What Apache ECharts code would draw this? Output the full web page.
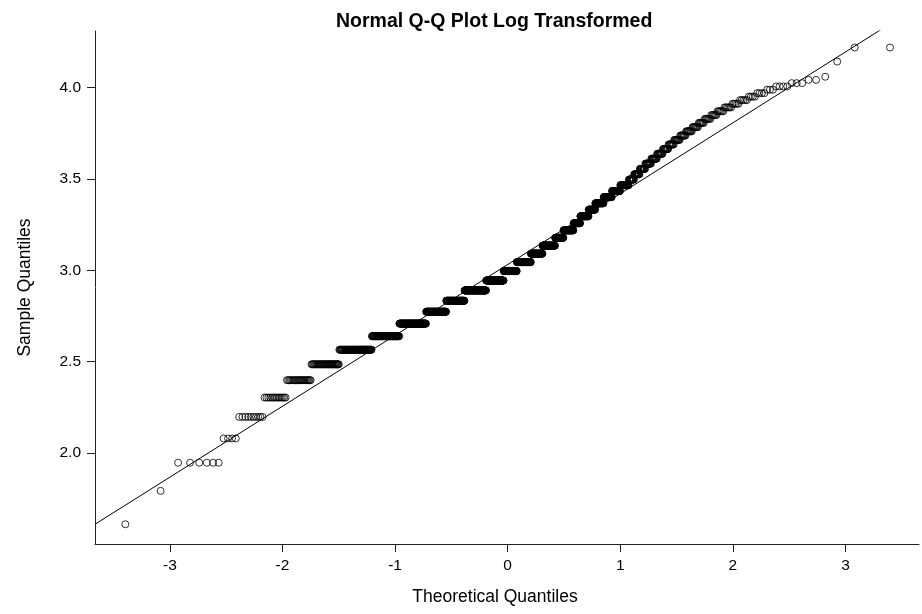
<!DOCTYPE html>
<html>
<head>
<meta charset="utf-8">
<script src="https://cdn.jsdelivr.net/npm/echarts@6/dist/echarts.min.js"></script>
<style>
  html, body { margin: 0; padding: 0; background: #fff; }
  #chart { width: 922px; height: 614px; }
</style>
</head>
<body>
<div id="chart"></div>
<script>
// ---- data ----
const chartTitle = 'Normal Q-Q Plot Log Transformed';
const xAxisTitle = 'Theoretical Quantiles';
const yAxisTitle = 'Sample Quantiles';

// distinct sample values (log-transformed) seen as horizontal runs
const sampleLevels = [
  1.609, 1.792, 1.946, 2.079, 2.197, 2.303, 2.398, 2.485, 2.565, 2.639,
  2.708, 2.773, 2.833, 2.890, 2.944, 2.996, 3.045, 3.091, 3.135, 3.178,
  3.219, 3.258, 3.296, 3.332, 3.367, 3.401, 3.434, 3.466,
  3.497, 3.526, 3.555, 3.584, 3.611, 3.638, 3.664, 3.689, 3.714, 3.738,
  3.761, 3.784, 3.807, 3.829, 3.850, 3.871,
  3.892, 3.912, 3.932, 3.951, 3.970, 3.989, 4.007,
  4.025, 4.043, 4.060, 4.143, 4.220
];
// number of observations in each run (from run lengths in the picture)
const levelCounts = [
  1, 1, 6, 4, 10, 14, 23, 39, 68, 79,
  97, 85, 85, 107, 90, 68, 72, 58, 61, 39,
  45, 29, 34, 26, 31, 29, 27, 26,
  15, 15, 14, 14, 13, 12, 11, 10, 10, 9,
  9, 8, 7, 7, 6, 6,
  6, 5, 5, 4, 4, 3, 4,
  3, 2, 1, 1, 2
];
// reference line (intercept, slope)
const refIntercept = 3.0315;
const refSlope = 0.3881;

const xTicks = [-3, -2, -1, 0, 1, 2, 3];
const yTicks = [2.0, 2.5, 3.0, 3.5, 4.0];
const xRange = [-3.665, 3.653];
const yRange = [1.501, 4.3105];

// ---- Q-Q transform: theoretical normal quantiles for the ordered sample ----
function qnorm(p) {
  const a = [-3.969683028665376e+01, 2.209460984245205e+02, -2.759285104469687e+02, 1.383577518672690e+02, -3.066479806614716e+01, 2.506628277459239e+00];
  const b = [-5.447609879822406e+01, 1.615858368580409e+02, -1.556989798598866e+02, 6.680131188771972e+01, -1.328068155288572e+01];
  const c = [-7.784894002430293e-03, -3.223964580411365e-01, -2.400758277161838e+00, -2.549732539343734e+00, 4.374664141464968e+00, 2.938163982698783e+00];
  const d = [7.784695709041462e-03, 3.224671290700398e-01, 2.445134137142996e+00, 3.754408661907416e+00];
  const pl = 0.02425, ph = 1 - pl;
  if (p < pl) {
    const q = Math.sqrt(-2 * Math.log(p));
    return (((((c[0]*q+c[1])*q+c[2])*q+c[3])*q+c[4])*q+c[5]) / ((((d[0]*q+d[1])*q+d[2])*q+d[3])*q+1);
  }
  if (p <= ph) {
    const q = p - 0.5, r = q * q;
    return (((((a[0]*r+a[1])*r+a[2])*r+a[3])*r+a[4])*r+a[5])*q / (((((b[0]*r+b[1])*r+b[2])*r+b[3])*r+b[4])*r+1);
  }
  const q = Math.sqrt(-2 * Math.log(1 - p));
  return -(((((c[0]*q+c[1])*q+c[2])*q+c[3])*q+c[4])*q+c[5]) / ((((d[0]*q+d[1])*q+d[2])*q+d[3])*q+1);
}

const sorted = [];
sampleLevels.forEach((v, i) => { for (let k = 0; k < levelCounts[i]; k++) sorted.push(v); });
const n = sorted.length;
const qqPoints = sorted.map((v, i) => [qnorm((i + 0.5) / n), v]);
const refLine = xRange.map(x => [x, refIntercept + refSlope * x]);

const font = 'Liberation Sans, Arial, Helvetica, sans-serif';
const chart = echarts.init(document.getElementById('chart'), null, { renderer: 'canvas' });
chart.setOption({
  animation: false,
  backgroundColor: '#ffffff',
  title: {
    text: chartTitle,
    left: 331, top: 7,
    textStyle: { fontFamily: font, fontWeight: 'bold', fontSize: 19.5, color: '#000' }
  },
  grid: { left: 95, right: 3, top: 31, bottom: 70, containLabel: false },
  xAxis: {
    type: 'value', min: xRange[0], max: xRange[1],
    name: xAxisTitle, nameLocation: 'middle', nameGap: 44,
    nameTextStyle: { fontFamily: font, fontSize: 17.5, color: '#000', padding: [0, 24, 0, 0] },
    axisLine: { show: true, onZero: false, lineStyle: { color: '#222', width: 1 } },
    axisTick: { show: true, length: 8, customValues: xTicks, lineStyle: { color: '#222' } },
    axisLabel: { customValues: xTicks, margin: 14, fontFamily: font, fontSize: 15.5, color: '#000',
      formatter: v => String(v) },
    splitLine: { show: false }
  },
  yAxis: {
    type: 'value', min: yRange[0], max: yRange[1],
    name: yAxisTitle, nameLocation: 'middle', nameGap: 61, nameRotate: 90,
    nameTextStyle: { fontFamily: font, fontSize: 17.5, color: '#000' },
    axisLine: { show: true, onZero: false, lineStyle: { color: '#222', width: 1 } },
    axisTick: { show: true, length: 8, customValues: yTicks, lineStyle: { color: '#222' } },
    axisLabel: { customValues: yTicks, margin: 14, fontFamily: font, fontSize: 15.5, color: '#000',
      formatter: v => v.toFixed(1) },
    splitLine: { show: false }
  },
  series: [
    {
      type: 'line', data: refLine, symbol: 'none', clip: true,
      lineStyle: { color: '#000', width: 1 }, silent: true, z: 1
    },
    {
      type: 'scatter', data: qqPoints, symbol: 'circle', symbolSize: 7,
      large: false, progressive: 0,
      itemStyle: { color: 'rgba(255,255,255,0)', borderColor: '#000', borderWidth: 1 },
      z: 2
    }
  ]
});
</script>
</body>
</html>
